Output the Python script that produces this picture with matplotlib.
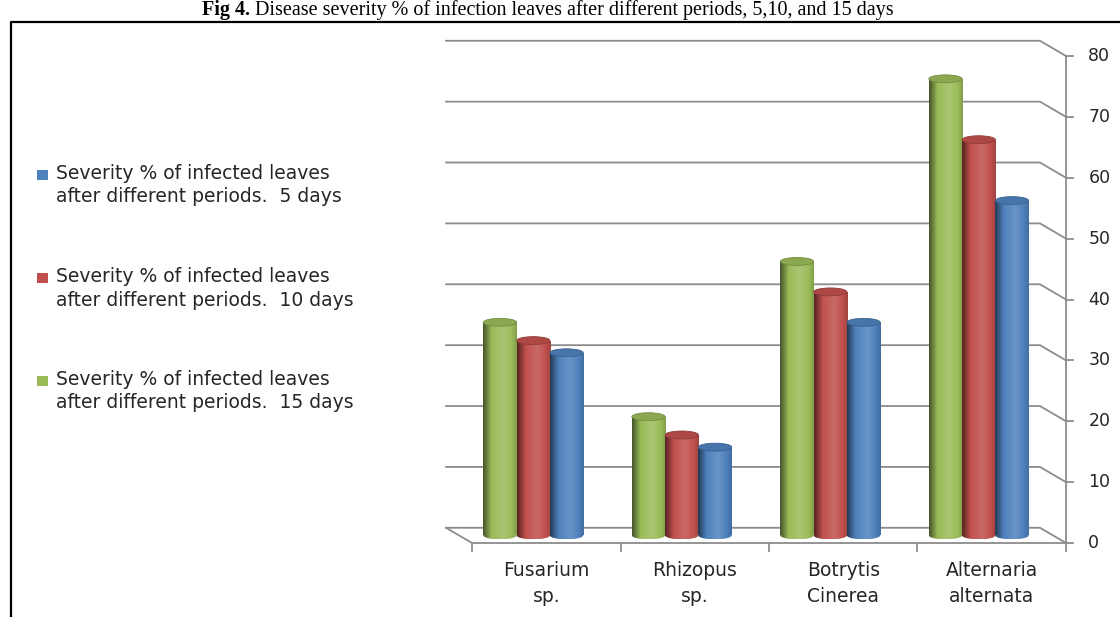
import numpy as np
import matplotlib.pyplot as plt
from matplotlib.patches import Rectangle, Ellipse
from matplotlib.colors import LinearSegmentedColormap, to_rgb
from matplotlib.lines import Line2D

# ── data ────────────────────────────────────────────────────
categories = ["Fusarium\nsp.", "Rhizopus\nsp.", "Botrytis\nCinerea", "Alternaria\nalternata"]
sev_15 = [35, 19.5, 45, 75]
sev_10 = [32, 16.5, 40, 65]
sev_5 = [30, 14.5, 35, 55]
yticks = [0, 10, 20, 30, 40, 50, 60, 70, 80]
legend_labels = [
    "Severity % of infected leaves\nafter different periods.  5 days",
    "Severity % of infected leaves\nafter different periods.  10 days",
    "Severity % of infected leaves\nafter different periods.  15 days",
]
title_bold = "Fig 4."
title_rest = " Disease severity % of infection leaves after different periods, 5,10, and 15 days"

GREEN, RED, BLUE = "#9BBB59", "#C0504D", "#4F81BD"
series = [(sev_15, GREEN), (sev_10, RED), (sev_5, BLUE)]   # drawn left→right
legend_colors = [BLUE, RED, GREEN]

plt.rcParams["font.family"] = ["DejaVu Sans"]

W, H = 1120, 617
fig = plt.figure(figsize=(W / 100, H / 100), dpi=100)

# plot area (pixel-based placement)
ax = fig.add_axes([430 / W, (H - 555) / H, 640 / W, 525 / H])
ax.set_axis_off()

# pseudo-3D depth offsets (category units / value units)
dx, dy = 0.175, 2.5
x0, x1 = -0.5, len(categories) - 0.5
grid_col = "#8c8c8c"
txt_col = "#262626"


def shade(c, f):
    r, g, b = to_rgb(c)
    return (r * f, g * f, b * f)


def lighten(c, f):
    r, g, b = to_rgb(c)
    return (r + (1 - r) * f, g + (1 - g) * f, b + (1 - b) * f)


# ── back walls / gridlines ──────────────────────────────────
for v in yticks:
    ax.plot([x0 - dx, x1 - dx, x1], [v + dy, v + dy, v], color=grid_col, lw=1.3,
            solid_joinstyle="miter", zorder=1, clip_on=False)
    ax.plot([x1, x1 + 0.05], [v, v], color=grid_col, lw=1.3, zorder=1, clip_on=False)
    ax.text(x1 + 0.15, v, str(v), ha="left", va="center", fontsize=12.5,
            color=txt_col)
# floor
ax.plot([x0 - dx, x0, x1], [dy, 0, 0], color=grid_col, lw=1.3, zorder=1, clip_on=False)
ax.plot([x1, x1], [0, yticks[-1]], color=grid_col, lw=1.3, zorder=1, clip_on=False)
for k in range(len(categories) + 1):
    ax.plot([x0 + k, x0 + k], [0, -1.3], color=grid_col, lw=1.3, zorder=1, clip_on=False)

for i, lab in enumerate(categories):
    ax.text(i, -3.0, lab, ha="center", va="top", fontsize=13.5, linespacing=1.45,
            color=txt_col)

# ── cylinders ───────────────────────────────────────────────
bw = 0.224
eh = 1.3
base = dy / 2
grad = np.linspace(0, 1, 64).reshape(1, -1)
z = 3
for i in range(len(categories)):
    gx = i - dx / 2 - 1.5 * bw
    for j, (vals, col) in enumerate(series):
        cmap = LinearSegmentedColormap.from_list(
            "c", [(0, shade(col, 0.45)), (0.25, to_rgb(col)), (0.6, lighten(col, 0.15)),
                  (0.85, to_rgb(col)), (1, shade(col, 0.85))])
        left = gx + j * bw
        top = vals[i] + base
        cx = left + bw / 2
        body = Rectangle((left, base), bw, top - base, transform=ax.transData)
        im = ax.imshow(grad, extent=(left, left + bw, base, top), cmap=cmap,
                       aspect="auto", interpolation="bilinear", zorder=z)
        im.set_clip_path(body)
        bot = Ellipse((cx, base), bw, eh, transform=ax.transData)
        im2 = ax.imshow(grad, extent=(left, left + bw, base - eh / 2, base), cmap=cmap,
                        aspect="auto", interpolation="bilinear", zorder=z)
        im2.set_clip_path(bot)
        ax.add_patch(Ellipse((cx, top), bw, eh, facecolor=shade(col, 0.9),
                             edgecolor=shade(col, 0.75), lw=0.6, zorder=z + 0.5))
        z += 1

ax.set_xlim(-0.783, 3.527)
ax.set_ylim(-1.97, 84.27)

# ── legend (left) ───────────────────────────────────────────
for k, (lab, col) in enumerate(zip(legend_labels, legend_colors)):
    yc = 175 + k * 103
    fig.patches.append(Rectangle((37 / W, 1 - (yc + 5) / H), 11 / W, 10 / H,
                                 transform=fig.transFigure, facecolor=col,
                                 edgecolor="none"))
    fig.text(56 / W, 1 - (yc - 11) / H, lab, ha="left", va="top", fontsize=13.5,
             linespacing=1.3, color=txt_col)

# ── title and frame ─────────────────────────────────────────
fig.text(250 / W, 1 - 15 / H, title_bold, ha="right", va="baseline",
         family="Liberation Serif", fontweight="bold", fontsize=14.5)
fig.text(250 / W, 1 - 15 / H, title_rest, ha="left", va="baseline",
         family="Liberation Serif", fontsize=14.5)
fig.lines.append(Line2D([11 / W, 11 / W, 1], [0, 1 - 22 / H, 1 - 22 / H],
                        transform=fig.transFigure, color="black", lw=1.6))

fig.savefig("out.png", dpi=100)
